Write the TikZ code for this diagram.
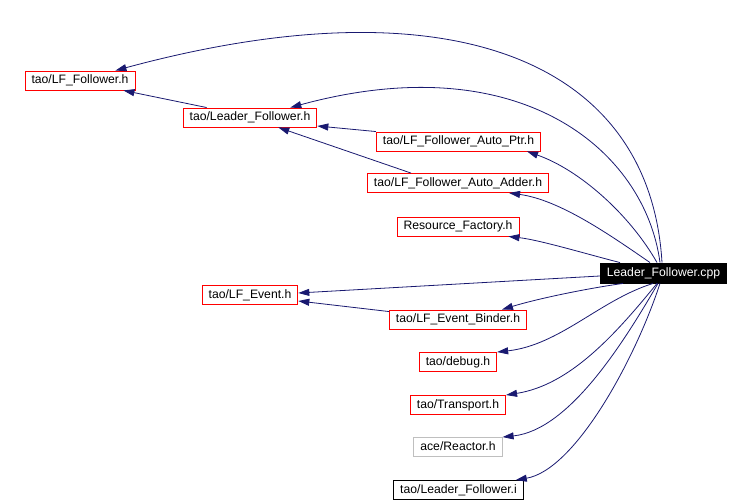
\documentclass[tikz,border=0pt]{standalone}
\usepackage{fontspec}
\setmainfont{Liberation Sans}
\usetikzlibrary{arrows.meta}
\usetikzlibrary{positioning}
\definecolor{edgeblue}{HTML}{191970}
\definecolor{boxgray}{HTML}{BFBFBF}

\begin{document}
\begin{tikzpicture}[x=1pt,y=-1pt,>={Triangle[length=11pt,width=7pt]},
    file/.style={draw=red,line width=0.9pt,inner xsep=6.5pt,inner ysep=0pt,minimum height=19pt,
      text height=9pt,text depth=2.5pt,font=\fontsize{12.2}{14}\selectfont},
    dep/.style={->,draw=edgeblue,line width=0.8pt}]
    \useasboundingbox (0,0) rectangle (753,502);

    \node[file] (lffollower) at (80,80.5) {tao/LF\_Follower.h};
    \node[file] (leaderh) at (250,117.5) {tao/Leader\_Follower.h};
    \node[file] (autoptr) at (458.5,141.5) {tao/LF\_Follower\_Auto\_Ptr.h};
    \node[file] (autoadder) at (458,183) {tao/LF\_Follower\_Auto\_Adder.h};
    \node[file] (resfactory) at (458,226.5) {Resource\_Factory.h};
    \node[file,draw=black,fill=black,text=white,minimum height=20pt] (cpp) at (663.5,273) {Leader\_Follower.cpp};
    \node[file] (lfevent) at (250,295) {tao/LF\_Event.h};
    \node[file] (binder) at (458,319.5) {tao/LF\_Event\_Binder.h};
    \node[file] (debug) at (458,362) {tao/debug.h};
    \node[file] (transport) at (458,405) {tao/Transport.h};
    \node[file,draw=boxgray] (reactor) at (458,447) {ace/Reactor.h};
    \node[file,draw=black] (leaderi) at (458.5,490) {tao/Leader\_Follower.i};

    \draw[dep] ([xshift=-1.5pt]cpp.north) .. controls (650,60) and (450,-20) .. ([xshift=-20pt]lffollower.north east);
    \draw[dep] ([xshift=-3.5pt]cpp.north) .. controls (645,150) and (520,45) .. ([xshift=-27pt]leaderh.north east);
    \draw[dep] ([xshift=-6.5pt]cpp.north) .. controls (630,215) and (580,170) .. ([xshift=-14pt]autoptr.south east);
    \draw[dep] ([xshift=-13.5pt]cpp.north) .. controls (610,235) and (560,200) .. ([xshift=-40pt]autoadder.south east);
    \draw[dep] ([xshift=-43.5pt]cpp.north) .. controls (590,255) and (540,240) .. ([xshift=-11pt]resfactory.south east);
    \draw[dep] ([yshift=-3pt]cpp.west) -- ([yshift=2pt]lfevent.east);
    \draw[dep] ([xshift=-40.5pt]cpp.south) .. controls (590,288) and (540,298) .. ([xshift=-25pt]binder.north east);
    \draw[dep] ([xshift=-10.5pt]cpp.south) .. controls (600,300) and (560,345) .. (debug.north east);
    \draw[dep] ([xshift=-6.5pt]cpp.south) .. controls (615,335) and (570,385) .. (transport.north east);
    \draw[dep] ([xshift=-5.5pt]cpp.south) .. controls (625,340) and (570,430) .. (reactor.north east);
    \draw[dep] ([xshift=-3.5pt]cpp.south) .. controls (635,360) and (575,470) .. ([xshift=-8pt]leaderi.north east);

    \draw[dep] ([xshift=24pt]leaderh.north west) -- ([xshift=-12pt]lffollower.south east);
    \draw[dep] (autoptr.north west) -- ([yshift=-8.5pt]leaderh.east);
    \draw[dep] ([xshift=44pt]autoadder.north west) -- ([xshift=-39pt]leaderh.south east);
    \draw[dep] ([yshift=-2pt]binder.north west) -- ([yshift=-6pt]lfevent.east);
\end{tikzpicture}
\end{document}
